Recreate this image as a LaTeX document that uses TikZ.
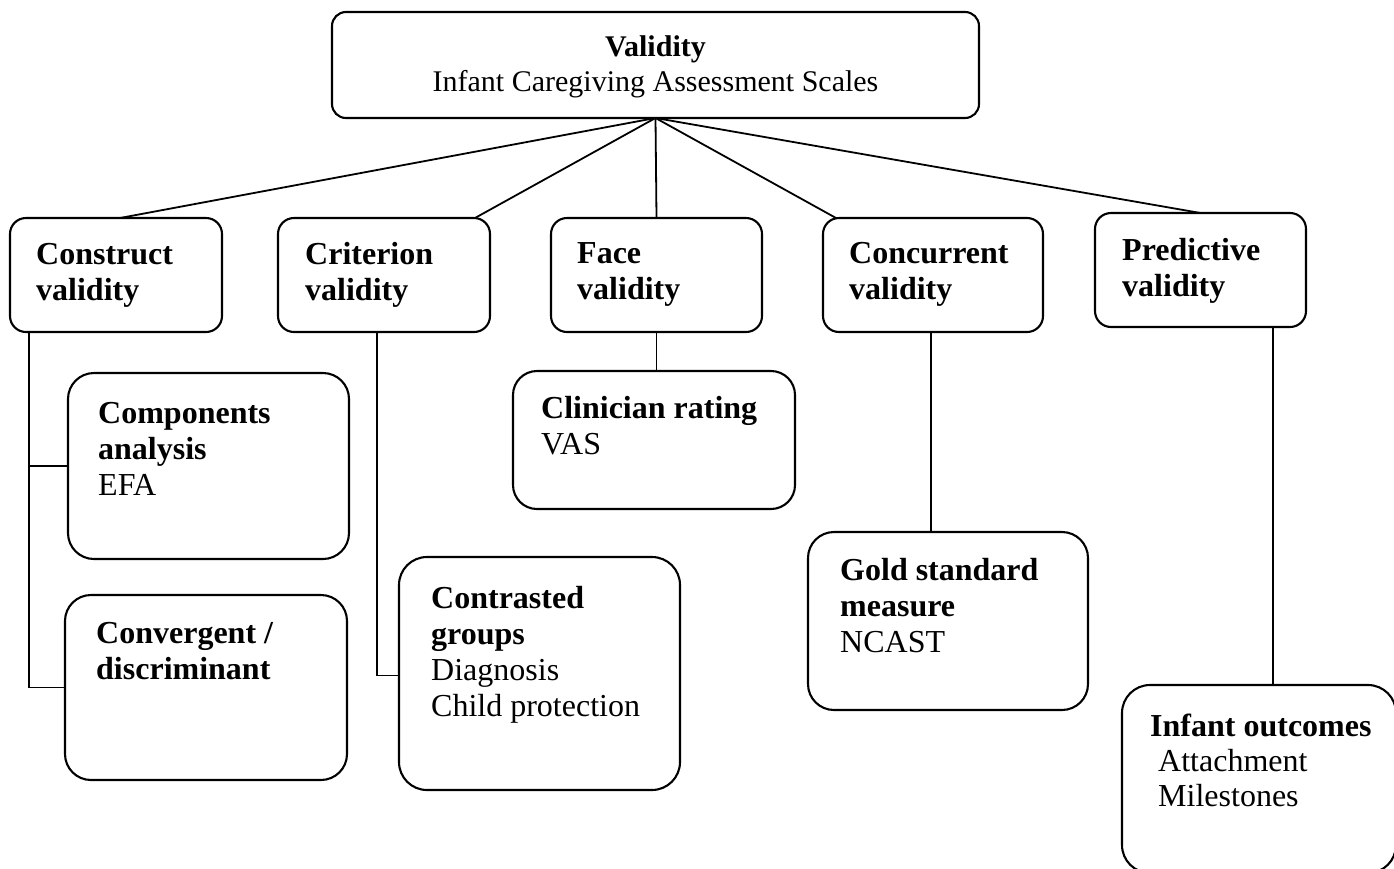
\documentclass[tikz,border=0pt]{standalone}
\usepackage{fontspec}
\setmainfont{Liberation Serif}
\begin{document}
\begin{tikzpicture}[x=1pt,y=-1pt,
  card/.style={draw, line width=2.1pt, rounded corners=#1, inner sep=0pt, outer sep=0pt, anchor=north west},
  card/.default=16pt,
  % labels are placed by the baseline of their last line
  lbl/.style={inner sep=0pt, align=left, anchor=base west, font=\fontsize{32}{36}\selectfont},
  link/.style={line width=1.8pt}
]
\useasboundingbox (0,0) rectangle (1394,868);
\clip (0,0) rectangle (1394,868);

% root
\node[card=14pt, minimum width=647pt, minimum height=106pt] (root) at (332,12) {};
\node[lbl, align=center, anchor=base, font=\fontsize{30}{35}\selectfont] (root-t) at (655.5,91)
  {\textbf{Validity}\\Infant Caregiving Assessment Scales};

% second row
\node[card, minimum width=212pt, minimum height=114pt] (construct) at (10,218) {};
\node[lbl] (construct-t) at (36,300) {\textbf{Construct}\\\textbf{validity}};

\node[card, minimum width=212pt, minimum height=114pt] (criterion) at (278,218) {};
\node[lbl] (criterion-t) at (305,300) {\textbf{Criterion}\\\textbf{validity}};

\node[card, minimum width=211pt, minimum height=114pt] (face) at (551,218) {};
\node[lbl] (face-t) at (577,299) {\textbf{Face}\\\textbf{validity}};

\node[card, minimum width=220pt, minimum height=114pt] (concurrent) at (823,218) {};
\node[lbl] (concurrent-t) at (849,299) {\textbf{Concurrent}\\\textbf{validity}};

\node[card, minimum width=211pt, minimum height=114pt] (predictive) at (1095,213) {};
\node[lbl] (predictive-t) at (1122,296) {\textbf{Predictive}\\\textbf{validity}};

% third row
\node[card=26pt, minimum width=281pt, minimum height=186pt] (components) at (68,373) {};
\node[lbl] (components-t) at (98,495) {\textbf{Components}\\\textbf{analysis}\\EFA};

\node[card=26pt, minimum width=282pt, minimum height=185pt] (convergent) at (65,595) {};
\node[lbl] (convergent-t) at (96,679) {\textbf{Convergent /}\\\textbf{discriminant}};

\node[card=28pt, minimum width=281pt, minimum height=233pt] (contrasted) at (399,557) {};
\node[lbl] (contrasted-t) at (431,716) {\textbf{Contrasted}\\\textbf{groups}\\Diagnosis\\Child protection};

\node[card=24pt, minimum width=282pt, minimum height=138pt] (clinician) at (513,371) {};
\node[lbl] (clinician-t) at (541,454) {\textbf{Clinician rating}\\VAS};

\node[card=26pt, minimum width=280pt, minimum height=178pt] (gold) at (808,532) {};
\node[lbl] (gold-t) at (840,652) {\textbf{Gold standard}\\\textbf{measure}\\NCAST};

\node[card=28pt, minimum width=274pt, minimum height=188pt] (infant) at (1122,685) {};
\node[lbl, font=\fontsize{32}{35}\selectfont] (infant-t) at (1150,806)
  {\textbf{Infant outcomes}\\\hspace*{8pt}Attachment\\\hspace*{8pt}Milestones};

% fan from the root
\coordinate (hub) at (root.south);
\draw[link] (hub) -- ([xshift=4pt]construct.north);
\draw[link] (hub) -- ([xshift=-15pt]criterion.north east);
\draw[link] (hub) -- (face.north);
\draw[link] (hub) -- ([xshift=13pt]concurrent.north west);
\draw[link] (hub) -- (predictive.north);

% construct validity branch
\coordinate (cs) at ([xshift=19pt]construct.south west);
\draw[link] (cs) |- (convergent.west);
\draw[link] (cs |- components.west) -- (components.west);

% criterion validity branch
\coordinate (crs) at ([xshift=99pt]criterion.south west);
\draw[link] (crs) |- ([yshift=-2pt]contrasted.west);

% face, concurrent and predictive branches
\draw[link] (face.south) -- (face.south |- clinician.north);
\coordinate (ccs) at ([xshift=108pt]concurrent.south west);
\draw[link] (ccs) -- (ccs |- gold.north);
\coordinate (ps) at ([xshift=178pt]predictive.south west);
\draw[link] (ps) -- (ps |- infant.north);
\end{tikzpicture}
\end{document}
